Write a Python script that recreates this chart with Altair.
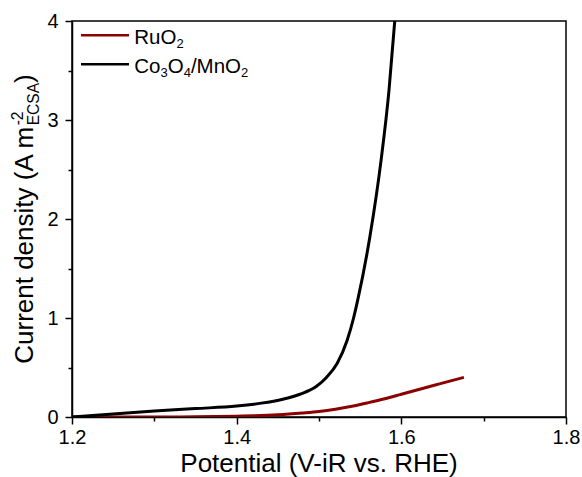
import altair as alt
import pandas as pd

# Polarisation curves (current density normalised to ECSA)
potential_co = [1.200, 1.250, 1.300, 1.350, 1.400, 1.430, 1.456, 1.477, 1.497,
                1.509, 1.522, 1.534, 1.542, 1.547, 1.562, 1.5755, 1.585, 1.592]
current_co = [0.000, 0.030, 0.060, 0.085, 0.110, 0.140, 0.180, 0.230, 0.310,
              0.400, 0.540, 0.770, 1.000, 1.180, 1.830, 2.600, 3.300, 4.000]

potential_ru = [1.200, 1.300, 1.350, 1.400, 1.420, 1.450, 1.480, 1.500, 1.520,
                1.540, 1.560, 1.580, 1.600, 1.620, 1.640, 1.660, 1.676]
current_ru = [0.000, 0.000, 0.002, 0.008, 0.012, 0.022, 0.040, 0.055, 0.078,
              0.108, 0.145, 0.185, 0.230, 0.275, 0.320, 0.365, 0.400]

series_names = ["RuO2", "Co3O4/MnO2"]
series_colors = ["#8b0000", "#000000"]

# Tick positions: labelled ticks every 0.2 V / 1 unit, minor ticks halfway between
x_ticks = [1.2, 1.3, 1.4, 1.5, 1.6, 1.7, 1.8]
y_ticks = [0, 0.5, 1, 1.5, 2, 2.5, 3, 3.5, 4]

FONT = "Liberation Sans"
W, H = 494, 396

df = pd.concat([
    pd.DataFrame({"potential": potential_ru, "current": current_ru, "series": series_names[0]}),
    pd.DataFrame({"potential": potential_co, "current": current_co, "series": series_names[1]}),
])

xs = alt.Scale(domain=[1.2, 1.8], nice=False, zero=False)
ys = alt.Scale(domain=[0, 4], nice=False, zero=False)

X_MAJOR = "abs(datum.value * 5 - round(datum.value * 5)) < 0.001"
Y_MAJOR = "abs(datum.value - round(datum.value)) < 0.001"

axis_common = dict(title=None, grid=False, ticks=True, tickColor="black", tickWidth=1.5,
                   domainColor="black", domainWidth=1.5, labelOverlap=False,
                   labelFont=FONT, labelFontSize=20, labelColor="black")

x_axis = alt.Axis(
    values=x_ticks, orient="bottom", labelPadding=3, labelFlush=False,
    labelExpr=f"{X_MAJOR} ? format(datum.value, '.1f') : ''",
    tickSize={"condition": {"test": X_MAJOR, "value": 7}, "value": 4},
    **axis_common)
y_axis = alt.Axis(
    values=y_ticks, orient="left", labelPadding=7,
    labelExpr=f"{Y_MAJOR} ? format(datum.value, 'd') : ''",
    tickSize={"condition": {"test": Y_MAJOR, "value": 7}, "value": 4},
    **axis_common)

lines = alt.Chart(df).mark_line(strokeWidth=3, interpolate="monotone", clip=True).encode(
    x=alt.X("potential:Q", scale=xs, axis=x_axis),
    y=alt.Y("current:Q", scale=ys, axis=y_axis),
    color=alt.Color("series:N", scale=alt.Scale(domain=series_names, range=series_colors), legend=None),
)

# Arial / Liberation Sans advance widths (per 1000 em) for laying out rich text
ADV = {"C": 722, "u": 556, "r": 333, "e": 556, "n": 556, "t": 278, " ": 278, "d": 556,
       "s": 500, "i": 222, "y": 500, "(": 333, ")": 333, "A": 667, "m": 833, "E": 667,
       "S": 667, "R": 722, "O": 778, "o": 556, "/": 278, "M": 833, "-": 333,
       "2": 556, "3": 556, "4": 556}


def text_width(s, size):
    return sum(ADV.get(c, 556) for c in s) * size / 1000.0


def label(text, x, y, size, angle=0, align="left", color="black"):
    return alt.Chart(alt.Data(values=[{}])).mark_text(
        text=text, font=FONT, fontSize=size, angle=angle, align=align,
        baseline="alphabetic", color=color,
    ).encode(x=alt.value(x), y=alt.value(y))


def rich_row(parts, x0, y0, size, sub_size, sub_shift):
    """Horizontal text with subscript runs; parts = [(text, is_sub), ...]."""
    out, x = [], x0
    for txt, sub in parts:
        s = sub_size if sub else size
        out.append(label(txt, x, y0 + (sub_shift if sub else 0), s))
        x += text_width(txt, s)
    return out


# Legend
legend_layers = [
    alt.Chart(alt.Data(values=[{}])).mark_rule(color=series_colors[0], strokeWidth=2.5).encode(
        x=alt.value(9), x2=alt.value(57), y=alt.value(14.3)),
    alt.Chart(alt.Data(values=[{}])).mark_rule(color=series_colors[1], strokeWidth=2.5).encode(
        x=alt.value(9), x2=alt.value(57), y=alt.value(43.3)),
]
legend_layers += rich_row([("RuO", False), ("2", True)], 62.3, 23, 20.5, 13, 4)
legend_layers += rich_row([("Co", False), ("3", True), ("O", False), ("4", True),
                           ("/MnO", False), ("2", True)], 62.3, 52.3, 20.5, 13, 4)

# Axis titles
TS = 26
SUB = 15.6
x_title = label("Potential (V-iR vs. RHE)", W / 2, 451, TS, align="center")

main_txt = "Current density (A m"
main_len = text_width(main_txt, TS)
total_len = main_len + text_width("ECSA", SUB) + text_width(")", TS)
y_start = H / 2 + total_len / 2
y_title = [
    label(main_txt, -39.5, y_start, TS, angle=270),
    label("-2", -49, y_start - main_len, SUB, angle=270),
    label("ECSA", -33.5, y_start - main_len, SUB, angle=270),
    label(")", -39.5, y_start - main_len - text_width("ECSA", SUB), TS, angle=270),
]

chart = alt.layer(lines, *legend_layers, x_title, *y_title).properties(
    width=W, height=H,
    padding={"left": 72, "top": 21, "right": 16, "bottom": 60},
    autosize="none",
).configure_view(stroke="black", strokeWidth=1.5)

chart.save("out.html", embed_options={"renderer": "svg", "actions": False})
